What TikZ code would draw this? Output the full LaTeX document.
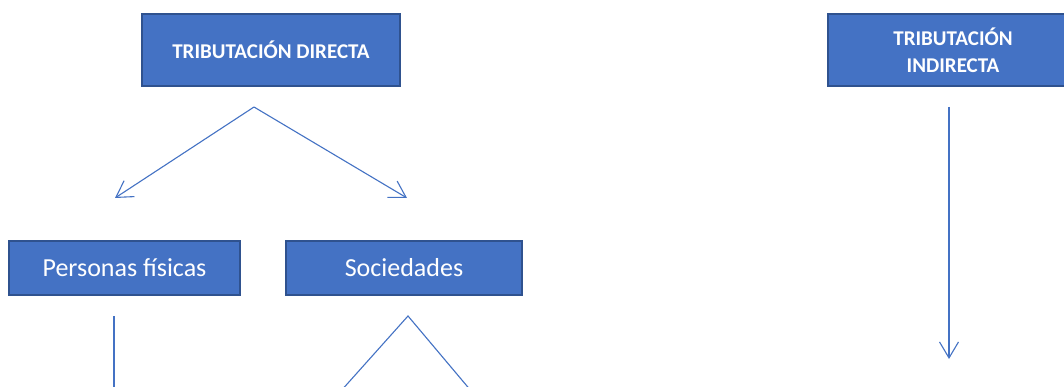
\documentclass[tikz,border=0pt]{standalone}
\usepackage{fontspec}
\setmainfont{Carlito}
\usetikzlibrary{arrows.meta}
\definecolor{boxblue}{HTML}{4472C4}
\definecolor{boxedge}{HTML}{2F528F}
\tikzset{
  box/.style={draw=boxedge, line width=2.5pt, fill=boxblue, text=white, inner sep=0pt, align=center},
  conn/.style={draw=boxblue, line width=1.1pt},
  arr/.style={conn, -{Straight Barb[length=16pt,width=19pt,line width=1.1pt]}}
}
\begin{document}
\begin{tikzpicture}[x=1pt,y=-1pt]
\useasboundingbox (0,0) rectangle (1064,387);
\clip (0,0) rectangle (1064,387);
\fill[white] (0,0) rectangle (1064,387);
% boxes
\node[box, minimum width=258pt, minimum height=72pt, font=\fontsize{21}{26}\selectfont\bfseries] (dir) at (271,50) {TRIBUTACIÓN DIRECTA};
\node[box, minimum width=250pt, minimum height=72pt, font=\fontsize{21}{27}\selectfont\bfseries] (ind) at (953,50) {TRIBUTACIÓN\\INDIRECTA};
\node[box, minimum width=231pt, minimum height=54pt, font=\fontsize{26}{30}\selectfont] (pf) at (124.5,268) {Personas físicas};
\node[box, minimum width=236pt, minimum height=54pt, font=\fontsize{26}{30}\selectfont] (soc) at (404,268) {Sociedades};
% connector points
\coordinate (dA) at (254,107);
\coordinate (dL) at (115,198);
\coordinate (dR) at (407,198);
\coordinate (iA) at (949,107);
\coordinate (iB) at (949,359);
\coordinate (pA) at (114,316);
\coordinate (pB) at (114,392);
\coordinate (sA) at (408,316);
\coordinate (sL) at (340,392);
\coordinate (sR) at (472,392);
% connectors
\draw[arr] (dA) -- (dL);
\draw[arr] (dA) -- (dR);
\draw[arr] (iA) -- (iB);
\draw[conn] (pA) -- (pB);
\draw[conn] (sL) -- (sA) -- (sR);
\end{tikzpicture}
\end{document}
